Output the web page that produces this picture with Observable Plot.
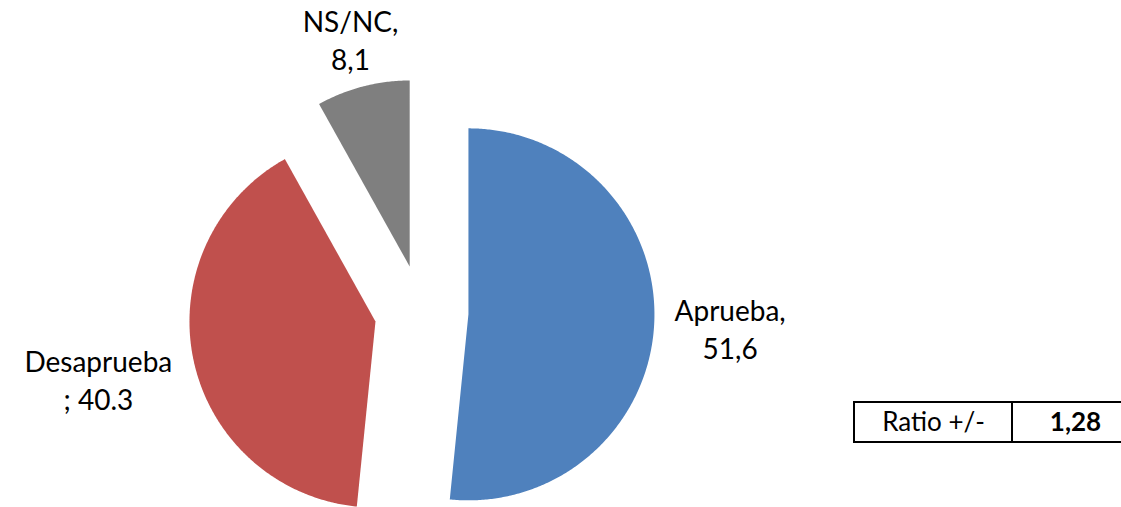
<!DOCTYPE html>
<html>
<head>
<meta charset="utf-8">
<script src="https://cdn.jsdelivr.net/npm/d3@7"></script>
<script src="https://cdn.jsdelivr.net/npm/@observablehq/plot@0.6"></script>
<style>
  html, body { margin: 0; padding: 0; background: #fff; }
  #chart { width: 1121px; height: 507px; overflow: hidden; }
</style>
</head>
<body>
<div id="chart"></div>
<script>
// ---- data ----
const categories = ["Aprueba", "Desaprueba", "NS/NC"];
const values = [51.6, 40.3, 8.1];
const labels = ["Aprueba,\n51,6", "Desaprueba\n; 40.3", "NS/NC,\n8,1"];
const colors = ["#4F81BD", "#C0504D", "#7F7F7F"];
const tableLabels = ["Ratio +/-"];
const tableValues = ["1,28"];

// ---- layout ----
const W = 1121, H = 507;
const cx = 421, cy = 311.5, R = 186, explode = 47;
const labelDist = [262, 283, 235];
const font = "Lato, 'Open Sans', sans-serif";

const data = categories.map((c, i) => ({cat: c, value: values[i], label: labels[i], dist: labelDist[i]}));
const arcs = d3.pie().sort(null).value(d => d.value)(data);

const pt = (x0, y0, a, r) => [x0 + r * Math.sin(a), y0 - r * Math.cos(a)];

const slicePts = [];
const labelPts = [];
arcs.forEach(a => {
  const mid = (a.startAngle + a.endAngle) / 2;
  const [ax, ay] = pt(cx, cy, mid, explode);
  slicePts.push({cat: a.data.cat, x: ax, y: ay});
  const n = Math.max(2, Math.ceil((a.endAngle - a.startAngle) / (Math.PI / 360)));
  for (let k = 0; k <= n; k++) {
    const t = a.startAngle + (a.endAngle - a.startAngle) * k / n;
    const [x, y] = pt(ax, ay, t, R);
    slicePts.push({cat: a.data.cat, x, y});
  }
  slicePts.push({cat: a.data.cat, x: ax, y: ay});
  const [lx, ly] = pt(ax, ay, mid, a.data.dist);
  labelPts.push({label: a.data.label, x: lx, y: ly});
});

// table layout
const tX0 = 854, tX1 = 1012, tX2 = 1126, tY0 = 402, tY1 = 442;
const tableCells = [
  {x1: tX0, x2: tX1, y1: tY0, y2: tY1, text: tableLabels[0], bold: false, dx: 0},
  {x1: tX1, x2: tX2, y1: tY0, y2: tY1, text: tableValues[0], bold: true, dx: 6}
];

const chart = Plot.plot({
  width: W,
  height: H,
  margin: 0,
  style: {fontFamily: font, background: "#fff"},
  x: {domain: [0, W], range: [0, W], axis: null},
  y: {domain: [0, H], range: [0, H], axis: null},
  color: {domain: categories, range: colors},
  marks: [
    Plot.line(slicePts, {x: "x", y: "y", z: "cat", fill: "cat", stroke: "none", curve: "linear"}),
    Plot.text(labelPts, {x: "x", y: "y", text: "label", fontSize: 28, fill: "#000", lineHeight: 1.35, textAnchor: "middle"}),
    Plot.rect(tableCells, {x1: "x1", x2: "x2", y1: "y1", y2: "y2", fill: "none", stroke: "#000", strokeWidth: 2}),
    Plot.text(tableCells.filter(d => !d.bold), {x: d => (d.x1 + d.x2) / 2 + d.dx, y: d => (d.y1 + d.y2) / 2, text: "text", fontSize: 26, fill: "#000"}),
    Plot.text(tableCells.filter(d => d.bold), {x: d => (d.x1 + d.x2) / 2 + d.dx, y: d => (d.y1 + d.y2) / 2, text: "text", fontSize: 26, fontWeight: "bold", fill: "#000"})
  ]
});
document.getElementById("chart").appendChild(chart);
</script>
</body>
</html>
